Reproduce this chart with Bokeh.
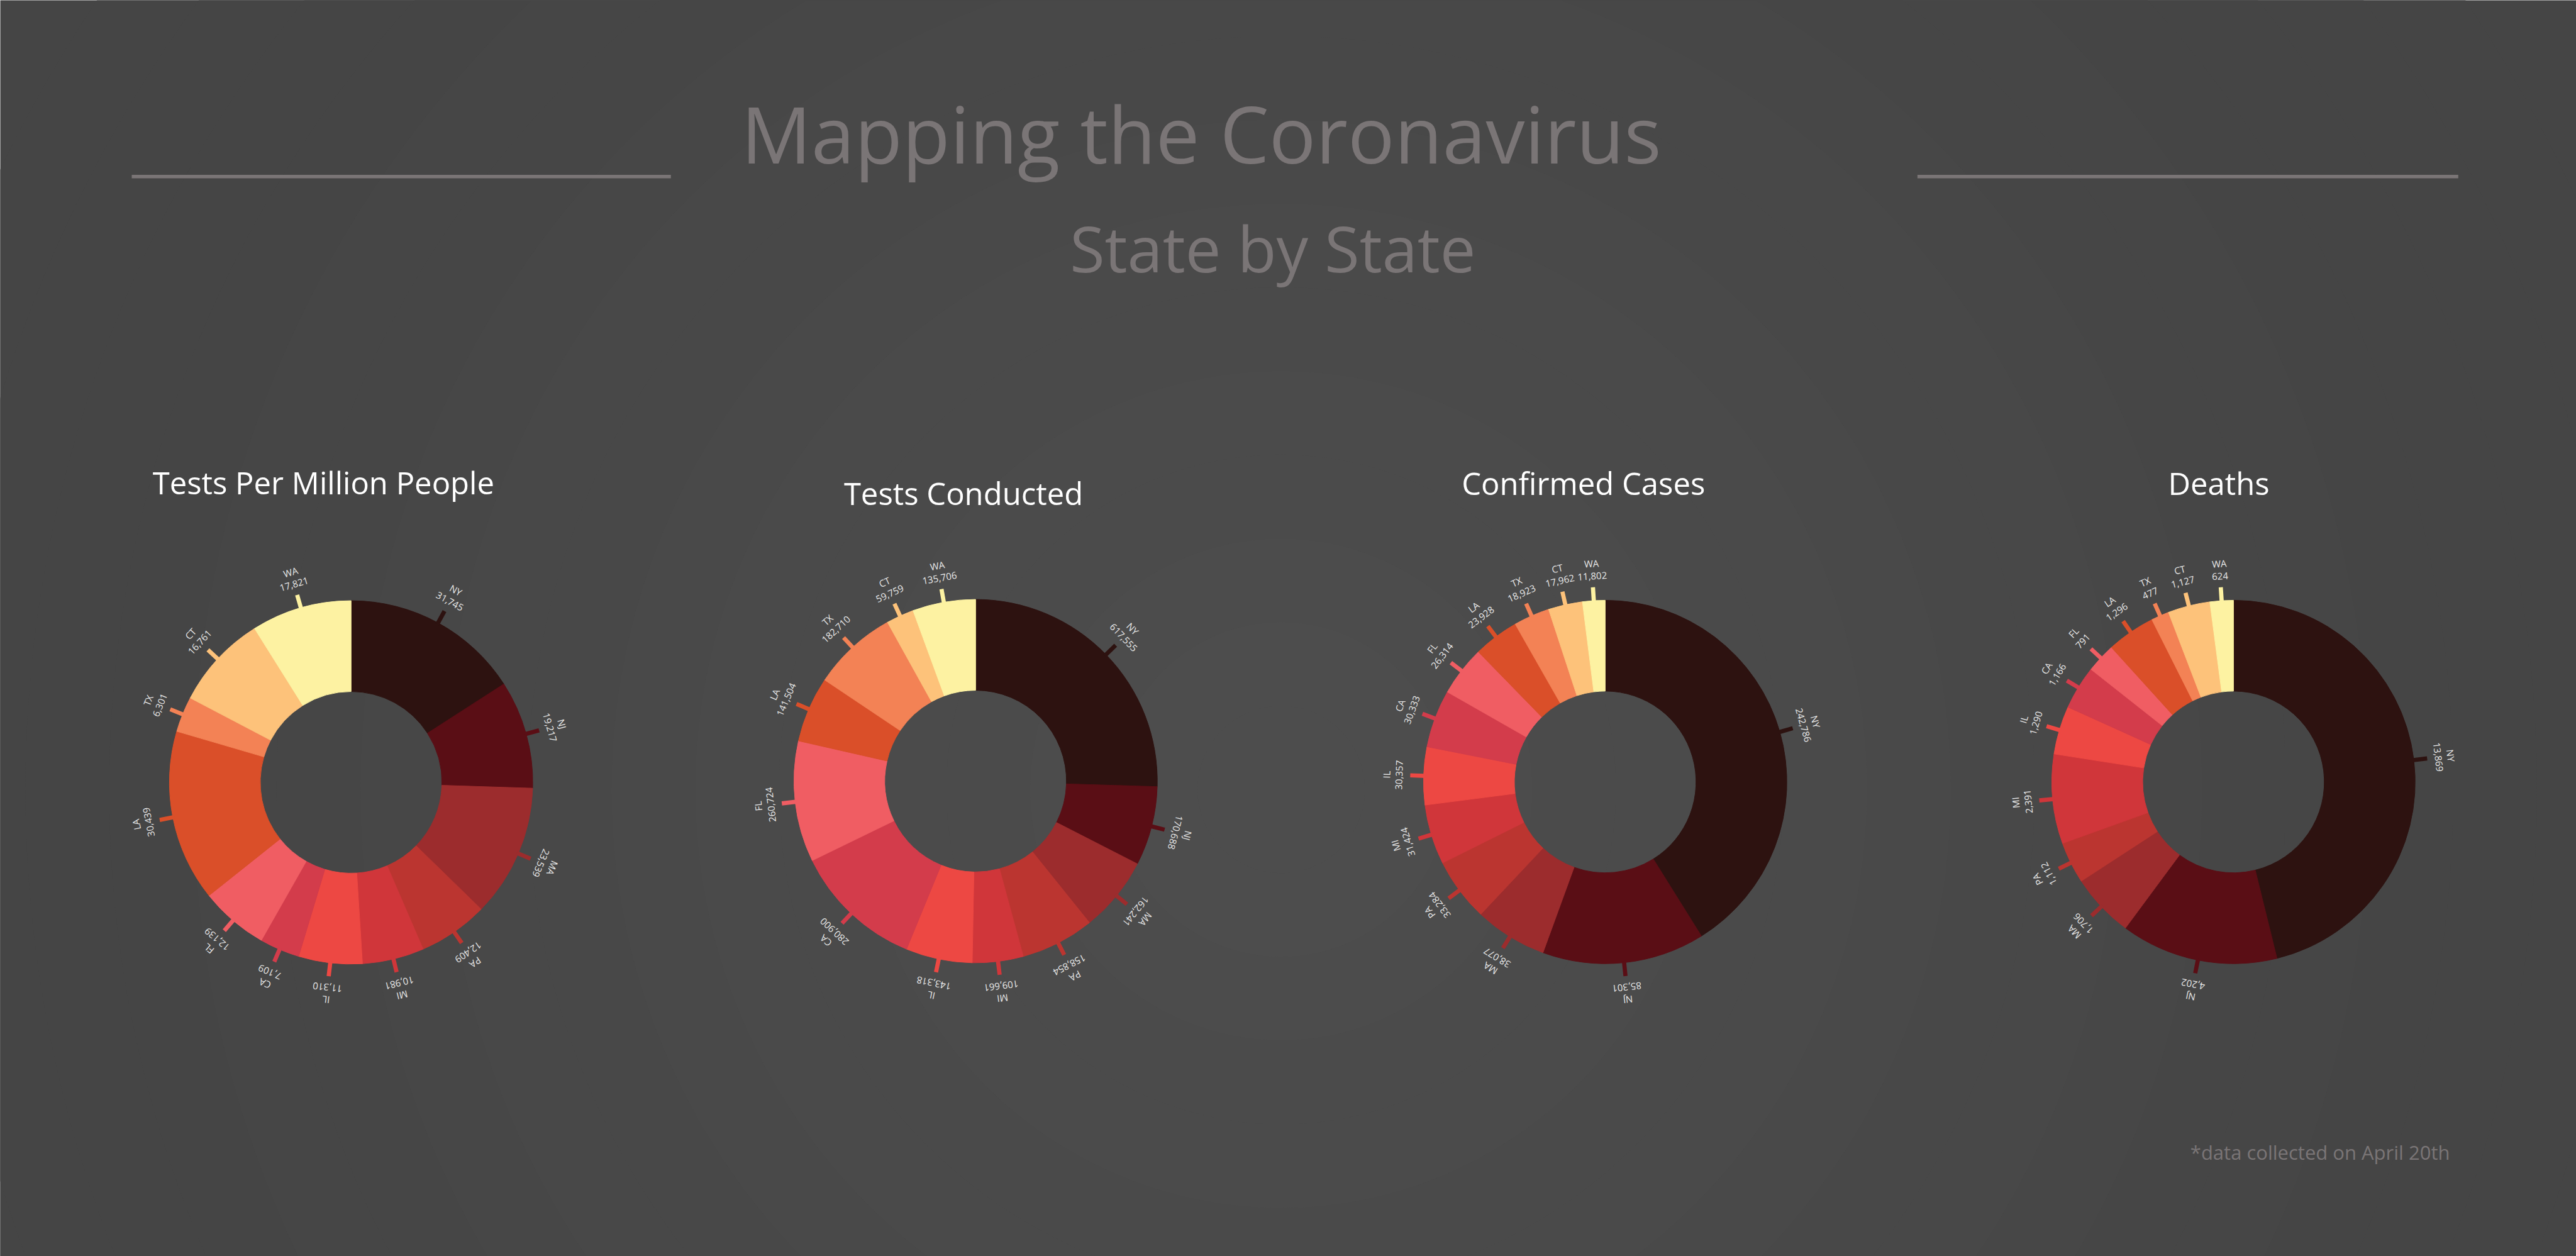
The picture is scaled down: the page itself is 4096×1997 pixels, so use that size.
import numpy as np
from bokeh.plotting import figure
from bokeh.models import Range1d, ColumnDataSource
from bokeh.embed import file_html
from bokeh.resources import INLINE
from bokeh.core.properties import value

# ---------------- data ----------------
states = ["NY", "NJ", "MA", "PA", "MI", "IL", "CA", "FL", "LA", "TX", "CT", "WA"]
state_colors = ["#2d1210", "#5a0e15", "#9c2c2d", "#bb3530", "#d0363a", "#ed4843",
                "#d33c4b", "#f05d63", "#da4f29", "#f38255", "#fdc27a", "#fdf2a2"]

tests_per_million = [31745, 19217, 23539, 12409, 10981, 11310, 7109, 12139, 30439, 6301, 16761, 17821]
tests_conducted = [617555, 170688, 162241, 158854, 109661, 143318, 280900, 260724, 141504, 182710, 59759, 135706]
confirmed_cases = [242786, 85301, 38077, 33284, 31424, 30357, 30333, 26314, 23928, 18923, 17962, 11802]
deaths = [13869, 4202, 1706, 1112, 2391, 1290, 1166, 791, 1296, 477, 1127, 624]

panel_titles = ["Tests Per Million People", "Tests Conducted", "Confirmed Cases", "Deaths"]
panel_series = [tests_per_million, tests_conducted, confirmed_cases, deaths]

title_text = "Mapping the Coronavirus"
subtitle_text = "State by State"
footnote_text = "*data collected on April 20th"

# ---------------- layout (reference pixel units) ----------------
W, H = 6154, 3000
K = 4096 / 6154.0           # reference px -> screen px


def fs(px_ref):
    return "%dpx" % int(round(px_ref * K))


def Y(y_ref):
    return H - y_ref


def YB(y_ref, font_ref):
    # baseline position, corrected for renderer's baseline offset
    return H - (y_ref - 0.36 * font_ref)


GREY = "#7a7576"
LABEL = "#e8e8e8"
FONT = "Open Sans"

centers_x = [838, 2330, 3834, 5335]
centers_y = [1868, 1865, 1867, 1867]
title_x = [772, 2301, 3782, 5300]
title_base = [1178, 1203, 1179, 1179]
R_OUT, R_IN = 434, 217

p = figure(width=4096, height=1997, x_range=Range1d(0, W), y_range=Range1d(0, H),
           output_backend="svg", toolbar_location=None, x_axis_type=None, y_axis_type=None,
           min_border=0, outline_line_color=None,
           background_fill_color="#454545", border_fill_color="#454545")
p.grid.visible = False

# subtle radial background glow
radii = list(range(3400, 100, -200))
bg_cols = []
for r in radii:
    v = int(round(max(69, 78 - 9 * (r / 2800.0))))
    bg_cols.append("#%02x%02x%02x" % (v, v, v))
p.circle(x=[3060] * len(radii), y=[Y(1885)] * len(radii), radius=radii,
         fill_color=bg_cols, line_color=None)

# header (title + subtitle in one source)
hsrc = ColumnDataSource(dict(
    x=[2869, 3040],
    y=[YB(384, 186), YB(646, 151)],
    text=[title_text, subtitle_text],
    size=[fs(186), fs(151)]))
p.text(x="x", y="y", text="text", text_font_size="size", source=hsrc,
       text_font=value(FONT), text_color=GREY, text_align="center",
       text_baseline="alphabetic")
p.segment(x0=[314, 4580], y0=[Y(421), Y(421)], x1=[1602, 5872], y1=[Y(421), Y(421)],
          line_color=GREY, line_width=8 * K, line_cap="butt")

# footnote
p.text(x=[5232], y=[YB(2769, 47)], text=[footnote_text], text_font=value(FONT),
       text_font_size=fs(47), text_color=GREY, text_align="left", text_baseline="alphabetic")

# donuts
for i in range(4):
    cx, cy = centers_x[i], Y(centers_y[i])
    vals = np.array(panel_series[i], dtype=float)
    frac = vals / vals.sum()
    ends = np.cumsum(frac) * 2 * np.pi
    starts = ends - frac * 2 * np.pi
    mids = (starts + ends) / 2.0

    src = ColumnDataSource(dict(
        x=[cx] * len(states), y=[cy] * len(states),
        start=np.pi / 2 - ends, end=np.pi / 2 - starts, color=state_colors))
    p.annular_wedge(x="x", y="y", inner_radius=R_IN, outer_radius=R_OUT,
                    start_angle="start", end_angle="end", fill_color="color",
                    line_color="color", line_width=1, source=src)

    # radial ticks
    tsrc = ColumnDataSource(dict(
        x0=cx + (R_OUT - 4) * np.sin(mids), y0=cy + (R_OUT - 4) * np.cos(mids),
        x1=cx + (R_OUT + 32) * np.sin(mids), y1=cy + (R_OUT + 32) * np.cos(mids),
        color=state_colors))
    p.segment(x0="x0", y0="y0", x1="x1", y1="y1", line_color="color",
              line_width=10 * K, line_cap="butt", source=tsrc)

    # labels: value (inner) and state (outer), tangential
    lsrc = ColumnDataSource(dict(
        xv=cx + 492 * np.sin(mids), yv=cy + 492 * np.cos(mids),
        xs=cx + 523 * np.sin(mids), ys=cy + 523 * np.cos(mids),
        ang=-mids,
        vtxt=["{:,}".format(int(v)) for v in panel_series[i]],
        stxt=states))
    p.text(x="xv", y="yv", text="vtxt", angle="ang", text_font=value(FONT),
           text_font_size="15px", text_color=LABEL, text_align="center",
           text_baseline="middle", source=lsrc)
    p.text(x="xs", y="ys", text="stxt", angle="ang", text_font=value(FONT),
           text_font_size="15px", text_color=LABEL, text_align="center",
           text_baseline="middle", source=lsrc)

    # panel title
    p.text(x=[title_x[i]], y=[YB(title_base[i], 74)], text=[panel_titles[i]],
           text_font=value(FONT), text_font_size=fs(74), text_color="#ffffff",
           text_align="center", text_baseline="alphabetic")

open("out.html", "w").write(file_html(p, INLINE))
